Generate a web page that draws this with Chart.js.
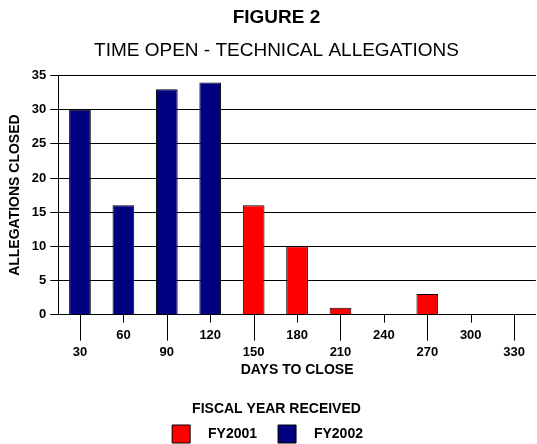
<!DOCTYPE html>
<html>
<head>
<meta charset="utf-8">
<script src="https://cdn.jsdelivr.net/npm/chart.js@4/dist/chart.umd.min.js"></script>
<style>
  body { margin: 0; background: #fff; }
  #wrap { width: 537px; height: 444px; }
</style>
</head>
<body>
<div id="wrap"><canvas id="chart"></canvas></div>
<script>
const days = ['30', '60', '90', '120', '150', '180', '210', '240', '270', '300', '330'];
const fy2001 = [null, null, null, null, 16, 10, 1, 0, 3, 0, 0];
const fy2002 = [30, 16, 33, 34, null, null, null, null, null, null, null];
const yTicks = [0, 5, 10, 15, 20, 25, 30, 35];

const font = 'Liberation Sans, Arial, sans-serif';

// tick marks under the x axis: short for the upper label row, long for the lower one
const xTickMarks = {
  id: 'xTickMarks',
  afterDraw(chart) {
    const ctx = chart.ctx;
    const x = chart.scales.x;
    const y0 = chart.chartArea.bottom;
    ctx.save();
    ctx.strokeStyle = '#000';
    ctx.lineWidth = 1;
    days.forEach((d, i) => {
      const px = Math.round(x.getPixelForTick(i)) + 0.5;
      ctx.beginPath();
      ctx.moveTo(px, y0);
      ctx.lineTo(px, y0 + (i % 2 === 0 ? 26 : 8));
      ctx.stroke();
    });
    ctx.restore();
  }
};

new Chart(document.getElementById('chart'), {
  type: 'bar',
  data: {
    labels: days,
    datasets: [
      { label: 'FY2001', data: fy2001, backgroundColor: '#ff0000', borderColor: '#000', borderWidth: 1 },
      { label: 'FY2002', data: fy2002, backgroundColor: '#000080', borderColor: '#000', borderWidth: 1 }
    ]
  },
  options: {
    responsive: true,
    maintainAspectRatio: false,
    animation: false,
    barPercentage: 0.5,
    categoryPercentage: 1,
    layout: { padding: { left: 7, right: -9, top: 0, bottom: -9 } },
    plugins: {
      title: {
        display: true,
        text: 'FIGURE 2',
        color: '#000',
        font: { family: font, size: 19, weight: 'bold' },
        padding: { top: 6, bottom: 10 }
      },
      subtitle: {
        display: true,
        text: 'TIME OPEN - TECHNICAL ALLEGATIONS',
        color: '#000',
        font: { family: font, size: 19, weight: 'normal' },
        padding: { top: 1, bottom: 13 }
      },
      legend: {
        position: 'bottom',
        title: {
          display: true,
          text: 'FISCAL YEAR RECEIVED',
          color: '#000',
          font: { family: font, size: 14, weight: 'bold' },
          padding: { top: 24, bottom: 6 }
        },
        labels: {
          color: '#000',
          font: { family: font, size: 14, weight: 'bold' },
          boxWidth: 18,
          boxHeight: 18,
          padding: 0,
          generateLabels: chart => Chart.defaults.plugins.legend.labels.generateLabels(chart)
            .map((l, i) => ({ ...l, text: ' \u2002' + l.text + (i === 0 ? '\u2002\u2002\u2002' : '\u2002\u2002 ') }))
        }
      },
      tooltip: { enabled: false }
    },
    scales: {
      x: {
        stacked: true,
        grid: { display: false, drawTicks: false },
        border: { display: true, color: '#000', width: 1 },
        ticks: {
          color: '#000',
          padding: 12,
          maxRotation: 0,
          autoSkip: false,
          font: { family: font, size: 13, weight: 'bold', lineHeight: 1.3 },
          callback: (v, i) => i % 2 === 0 ? ['', days[i]] : [days[i], '']
        },
        title: {
          display: true,
          text: 'DAYS TO CLOSE',
          color: '#000',
          font: { family: font, size: 14, weight: 'bold' },
          padding: { top: -11, bottom: 0 }
        }
      },
      y: {
        stacked: true,
        min: 0,
        max: 35,
        afterBuildTicks: axis => { axis.ticks = yTicks.map(v => ({ value: v })); },
        grid: { color: '#000', lineWidth: 1, tickLength: 8 },
        border: { display: true, color: '#000', width: 1 },
        ticks: {
          color: '#000',
          padding: 4,
          font: { family: font, size: 13, weight: 'bold' }
        },
        title: {
          display: true,
          text: 'ALLEGATIONS CLOSED',
          color: '#000',
          font: { family: font, size: 14, weight: 'bold' },
          padding: { top: 0, bottom: 4 }
        }
      }
    }
  },
  plugins: [xTickMarks]
});
</script>
</body>
</html>
